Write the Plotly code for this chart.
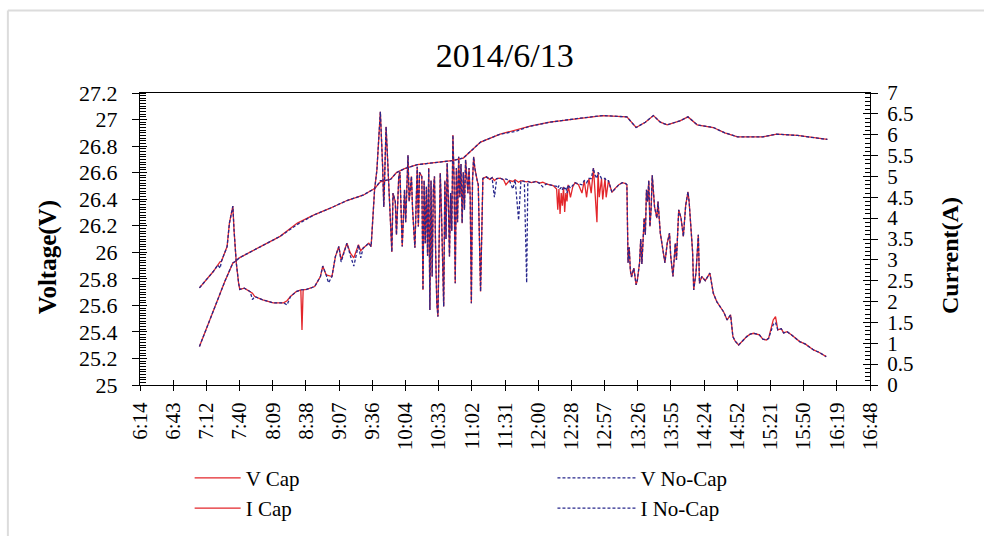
import plotly.graph_objects as go

# ---- data -------------------------------------------------------------
tick_labels = ["6:14", "6:43", "7:12", "7:40", "8:09", "8:38", "9:07", "9:36",
               "10:04", "10:33", "11:02", "11:31", "12:00", "12:28", "12:57",
               "13:26", "13:55", "14:24", "14:52", "15:21", "15:50", "16:19", "16:48"]

v_times = ["7:06", "7:13", "7:20", "7:28", "7:35", "7:37", "7:41", "7:50", "8:01",
           "8:16", "8:31", "8:45", "8:59", "9:14", "9:28", "9:38", "9:40", "9:43",
           "9:47", "9:52", "9:57", "10:04", "10:15", "10:25", "10:35", "10:45",
           "10:55", "11:01", "11:10", "11:27", "11:40", "11:53", "12:10", "12:36",
           "12:56", "13:17", "13:25", "13:33", "13:40", "13:46", "13:52", "14:03",
           "14:10", "14:18", "14:32", "14:42", "14:53", "15:15", "15:27", "15:45",
           "16:11"]
v_cap = [25.29, 25.45, 25.60, 25.78, 25.92, 25.93, 25.96, 26.00, 26.05,
         26.12, 26.22, 26.28, 26.33, 26.39, 26.43, 26.48, 26.50, 26.53,
         26.54, 26.55, 26.60, 26.63, 26.66, 26.67, 26.68, 26.69,
         26.71, 26.76, 26.83, 26.89, 26.92, 26.95, 26.98, 27.01,
         27.03, 27.02, 26.94, 26.98, 27.03, 26.98, 26.96, 26.99,
         27.02, 26.96, 26.94, 26.90, 26.87, 26.87, 26.89, 26.88,
         26.85]
v_nocap = [25.29, 25.45, 25.61, 25.78, 25.92, 25.93, 25.96, 26.00, 26.05,
           26.12, 26.21, 26.28, 26.33, 26.39, 26.43, 26.48, 26.50, 26.54,
           26.54, 26.55, 26.60, 26.63, 26.66, 26.67, 26.68, 26.69,
           26.71, 26.76, 26.83, 26.89, 26.91, 26.95, 26.98, 27.01,
           27.03, 27.02, 26.94, 26.98, 27.03, 26.98, 26.96, 26.99,
           27.02, 26.96, 26.94, 26.90, 26.87, 26.87, 26.89, 26.88,
           26.85]

i_times = ["7:06", "7:12", "7:18", "7:22", "7:24", "7:25", "7:30", "7:32", "7:35", "7:36",
           "7:38", "7:40", "7:41", "7:45", "7:50", "7:52", "7:54", "8:01", "8:10", "8:19",
           "8:22", "8:25", "8:30", "8:34", "8:35", "8:36", "8:39", "8:46", "8:51", "8:53",
           "8:56", "8:58", "9:01", "9:04", "9:07", "9:09", "9:14", "9:17", "9:20", "9:24",
           "9:26", "9:28", "9:33", "9:35", "9:38", "9:40", "9:43", "9:45", "9:46", "9:48",
           "9:50", "9:53", "9:54", "9:56", "9:57", "9:59", "10:00", "10:02", "10:04", "10:05",
           "10:07", "10:08", "10:10", "10:11", "10:13", "10:15", "10:16", "10:17", "10:19", "10:20",
           "10:21", "10:22", "10:23", "10:24", "10:25", "10:26", "10:27", "10:28", "10:29", "10:30",
           "10:31", "10:32", "10:33", "10:34", "10:35", "10:36", "10:37", "10:38", "10:39", "10:40",
           "10:41", "10:42", "10:43", "10:44", "10:45", "10:46", "10:47", "10:48", "10:49", "10:50",
           "10:51", "10:52", "10:53", "10:54", "10:55", "10:56", "10:57", "10:58", "10:59", "11:00",
           "11:01", "11:02", "11:03", "11:04", "11:05", "11:07", "11:08", "11:10", "11:12", "11:15",
           "11:18", "11:20", "11:22", "11:24", "11:27", "11:30", "11:32", "11:35", "11:38", "11:40",
           "11:43", "11:45", "11:48", "11:50", "11:51", "11:54", "11:58", "12:01", "12:04", "12:07",
           "12:10", "12:13", "12:16", "12:17", "12:18", "12:19", "12:20", "12:21", "12:22", "12:23",
           "12:24", "12:25", "12:26", "12:28", "12:30", "12:32", "12:35", "12:38", "12:40", "12:42",
           "12:44", "12:46", "12:48", "12:49", "12:51", "12:52", "12:53", "12:55", "12:56", "12:58",
           "12:59", "13:01", "13:04", "13:07", "13:10", "13:13", "13:16", "13:17", "13:18", "13:19",
           "13:20", "13:21", "13:23", "13:25", "13:26", "13:28", "13:29", "13:30", "13:31", "13:32",
           "13:33", "13:34", "13:35", "13:36", "13:37", "13:38", "13:39", "13:40", "13:41", "13:43",
           "13:44", "13:46", "13:48", "13:50", "13:52", "13:54", "13:55", "13:57", "13:59", "14:00",
           "14:02", "14:04", "14:06", "14:08", "14:10", "14:11", "14:12", "14:13", "14:14", "14:15",
           "14:17", "14:19", "14:20", "14:22", "14:25", "14:29", "14:32", "14:35", "14:38", "14:41",
           "14:44", "14:47", "14:49", "14:51", "14:54", "15:01", "15:04", "15:07", "15:12", "15:15",
           "15:18", "15:20", "15:24", "15:26", "15:28", "15:31", "15:33", "15:36", "15:40", "15:44",
           "15:47", "15:52", "15:56", "15:59", "16:04", "16:10"]
i_cap = [2.33, 2.52, 2.72, 2.88, 2.96, 2.96, 3.32, 3.88, 4.29, 3.72,
         2.92, 2.44, 2.29, 2.32, 2.24, 2.20, 2.12, 2.04, 1.97, 1.97,
         2.02, 2.12, 2.24, 2.28, 1.32, 2.28, 2.29, 2.36, 2.60, 2.85,
         2.64, 2.62, 2.60, 3.08, 3.32, 3.00, 3.40, 3.16, 3.05, 3.36,
         3.22, 3.28, 3.40, 3.32, 4.68, 5.15, 6.55, 5.23, 4.27, 6.19,
         5.08, 3.19, 4.60, 4.39, 3.60, 5.00, 5.10, 3.32, 4.68, 3.90,
         5.51, 4.40, 5.00, 4.20, 3.29, 5.23, 3.80, 5.10, 5.00, 2.28,
         4.90, 3.40, 4.75, 3.10, 5.20, 1.80, 4.90, 2.60, 4.68, 5.00,
         3.20, 1.96, 1.64, 4.00, 5.08, 4.20, 2.90, 1.88, 4.90, 3.50,
         5.32, 4.50, 3.08, 4.60, 3.70, 5.99, 4.90, 2.44, 5.20, 3.90,
         5.47, 4.50, 5.30, 3.88, 5.10, 4.20, 5.40, 5.00, 4.60, 5.20,
         4.50, 1.96, 4.90, 5.47, 5.20, 4.91, 4.80, 2.24, 4.95, 4.99,
         4.93, 4.97, 4.90, 4.95, 4.96, 4.92, 4.80, 4.90, 4.88, 4.92,
         4.86, 4.90, 4.88, 4.87, 4.88, 4.85, 4.88, 4.84, 4.86, 4.82,
         4.80, 4.78, 4.70, 4.20, 4.70, 4.10, 4.60, 4.30, 4.75, 4.15,
         4.60, 4.40, 4.80, 4.50, 4.75, 4.85, 4.80, 4.60, 4.90, 4.50,
         4.95, 4.60, 5.20, 4.70, 3.90, 5.10, 4.50, 4.95, 4.45, 4.95,
         4.50, 4.90, 4.62, 4.72, 4.80, 4.85, 4.83, 4.80, 2.93, 3.30,
         2.75, 2.59, 2.80, 2.40, 2.50, 2.93, 3.50, 2.90, 3.32, 4.00,
         3.60, 4.68, 4.40, 4.90, 3.80, 4.20, 5.03, 4.50, 4.27, 4.00,
         4.40, 3.64, 3.30, 2.93, 3.40, 3.64, 3.10, 2.60, 3.40, 3.00,
         4.20, 4.00, 3.56, 4.30, 4.63, 4.40, 4.00, 3.64, 3.20, 2.28,
         2.70, 3.60, 2.44, 2.60, 2.50, 2.68, 2.20, 2.00, 1.88, 1.75,
         1.56, 1.68, 1.16, 1.05, 0.96, 1.16, 1.22, 1.24, 1.20, 1.10,
         1.08, 1.12, 1.56, 1.64, 1.32, 1.35, 1.25, 1.28, 1.20, 1.10,
         1.04, 0.98, 0.90, 0.84, 0.78, 0.68]
i_nocap = [2.33, 2.52, 2.72, 2.88, 2.80, 2.96, 3.32, 3.88, 4.29, 3.72,
           2.92, 2.44, 2.29, 2.32, 2.24, 2.05, 2.12, 2.04, 1.97, 1.97,
           1.92, 2.12, 2.24, 2.28, 2.28, 2.28, 2.29, 2.36, 2.60, 2.85,
           2.64, 2.45, 2.60, 3.08, 3.32, 2.95, 3.40, 3.10, 2.85, 3.36,
           3.05, 3.28, 3.40, 3.32, 4.68, 5.15, 6.55, 5.23, 4.27, 6.19,
           5.08, 3.19, 4.60, 4.39, 3.60, 5.00, 5.10, 3.32, 4.68, 3.90,
           5.51, 4.40, 5.00, 4.20, 3.29, 5.23, 3.80, 5.10, 5.00, 2.28,
           4.90, 3.40, 4.75, 3.10, 5.20, 1.80, 4.90, 2.60, 4.68, 5.00,
           3.20, 1.96, 1.64, 4.00, 5.08, 4.20, 2.90, 1.88, 4.90, 3.50,
           5.32, 4.50, 3.08, 4.60, 3.70, 5.99, 4.90, 2.44, 5.20, 3.90,
           5.47, 4.50, 5.30, 3.88, 5.10, 4.20, 5.40, 5.00, 4.60, 5.20,
           4.50, 1.96, 4.90, 5.47, 5.20, 4.91, 4.80, 2.24, 4.95, 4.99,
           4.93, 4.97, 4.50, 4.95, 4.96, 4.92, 4.94, 4.90, 4.70, 4.92,
           3.95, 4.90, 4.88, 2.45, 4.88, 4.85, 4.88, 4.84, 4.75, 4.82,
           4.80, 4.78, 4.76, 4.72, 4.78, 4.70, 4.74, 4.68, 4.76, 4.70,
           4.75, 4.60, 4.80, 4.72, 4.78, 4.85, 4.82, 4.80, 4.90, 4.85,
           4.95, 4.95, 5.20, 5.05, 4.95, 5.10, 5.05, 4.95, 4.95, 4.95,
           4.90, 4.90, 4.62, 4.72, 4.80, 4.85, 4.83, 4.80, 2.93, 3.30,
           2.75, 2.59, 2.80, 2.40, 2.50, 2.93, 3.50, 2.90, 3.32, 4.00,
           3.60, 4.68, 4.40, 4.90, 3.80, 4.20, 5.03, 4.50, 4.27, 4.00,
           4.40, 3.64, 3.30, 2.93, 3.40, 3.64, 3.10, 2.60, 3.40, 3.00,
           4.20, 4.00, 3.56, 4.30, 4.63, 4.40, 4.00, 3.64, 3.20, 2.28,
           2.70, 3.60, 2.44, 2.60, 2.50, 2.68, 2.20, 2.00, 1.88, 1.75,
           1.56, 1.68, 1.16, 1.05, 0.96, 1.16, 1.22, 1.24, 1.20, 1.10,
           1.08, 1.12, 1.45, 1.50, 1.32, 1.35, 1.25, 1.28, 1.20, 1.10,
           1.04, 0.98, 0.90, 0.84, 0.78, 0.68]


def day_frac(hm):
    h, m = hm.split(":")
    return (int(h) * 60 + int(m)) / 1440.0


vx = [day_frac(t) for t in v_times]
ix = [day_frac(t) for t in i_times]
tick_vals = [round(0.26 + 0.02 * k, 4) for k in range(len(tick_labels))]

RED = "#e3262b"
BLUE = "#27278c"
FONT = "Liberation Serif"

fig = go.Figure()
fig.add_trace(go.Scatter(x=vx, y=v_cap, name="V Cap", mode="lines", legend="legend",
                         line=dict(color=RED, width=1.3)))
fig.add_trace(go.Scatter(x=ix, y=i_cap, name="I Cap", mode="lines", yaxis="y2", legend="legend",
                         line=dict(color=RED, width=1.3)))
fig.add_trace(go.Scatter(x=vx, y=v_nocap, name="V No-Cap", mode="lines", legend="legend2",
                         line=dict(color=BLUE, width=1.3, dash="3px,2px")))
fig.add_trace(go.Scatter(x=ix, y=i_nocap, name="I No-Cap", mode="lines", yaxis="y2",
                         legend="legend2",
                         line=dict(color=BLUE, width=1.3, dash="3px,2px")))

# empty traces that carry the inner halves of the crossing tick marks
fig.add_trace(go.Scatter(x=[None], y=[None], xaxis="x2", yaxis="y",
                         showlegend=False, hoverinfo="skip"))
fig.add_trace(go.Scatter(x=[None], y=[None], xaxis="x", yaxis="y3",
                         showlegend=False, hoverinfo="skip"))
fig.add_trace(go.Scatter(x=[None], y=[None], xaxis="x", yaxis="y4",
                         showlegend=False, hoverinfo="skip"))

v_ticks = [round(25 + 0.2 * k, 1) for k in range(12)]
i_ticks = [0.5 * k for k in range(15)]

legend_common = dict(orientation="v", yref="container", yanchor="top", y=0.146,
                     font=dict(family=FONT, size=21),
                     bgcolor="rgba(0,0,0,0)", traceorder="normal", tracegroupgap=0)

fig.update_layout(
    width=984, height=536,
    margin=dict(l=140, r=114, t=93, b=151, autoexpand=False),
    paper_bgcolor="white", plot_bgcolor="white",
    font=dict(family=FONT, color="black", size=22),
    showlegend=True,
    title=dict(text="2014/6/13", x=0.513, xanchor="center", y=0.897, yanchor="middle",
               font=dict(family=FONT, size=34, color="black")),
    xaxis=dict(range=[0.26, 0.70], tickmode="array", tickvals=tick_vals, ticktext=tick_labels,
               tickangle=-90, ticks="outside", ticklen=5, tickcolor="black",
               showline=True, linecolor="black", linewidth=1, mirror=True,
               showgrid=False, zeroline=False, ticklabelstandoff=3,
               tickfont=dict(family=FONT, size=21)),
    xaxis2=dict(range=[0.26, 0.70], overlaying="x", anchor="y", tickmode="array",
                tickvals=tick_vals, showticklabels=False, ticks="inside", ticklen=5,
                tickcolor="black", showline=False, showgrid=False, zeroline=False),
    yaxis=dict(range=[25, 27.2], tickmode="array", tickvals=v_ticks,
               ticks="outside", ticklen=7, tickcolor="black",
               minor=dict(tick0=25, dtick=0.02, ticks="inside", ticklen=6,
                          tickcolor="black", showgrid=False),
               showline=True, linecolor="black", linewidth=1,
               showgrid=False, zeroline=False, ticklabelstandoff=10,
               tickfont=dict(family=FONT, size=22)),
    yaxis2=dict(range=[0, 7], overlaying="y", side="right", anchor="x",
                tickmode="array", tickvals=i_ticks,
                ticks="outside", ticklen=7, tickcolor="black",
                minor=dict(tick0=0, dtick=0.1, ticks="inside", ticklen=5,
                           tickcolor="black", showgrid=False),
                showline=True, linecolor="black", linewidth=1,
                showgrid=False, zeroline=False, ticklabelstandoff=5,
                tickfont=dict(family=FONT, size=21)),
    yaxis3=dict(range=[25, 27.2], overlaying="y", side="left", anchor="x",
                tickmode="array", tickvals=v_ticks, showticklabels=False,
                ticks="inside", ticklen=7, tickcolor="black",
                showline=False, showgrid=False, zeroline=False),
    yaxis4=dict(range=[0, 7], overlaying="y", side="right", anchor="x",
                tickmode="array", tickvals=i_ticks, showticklabels=False,
                ticks="inside", ticklen=7, tickcolor="black",
                showline=False, showgrid=False, zeroline=False),
    legend=dict(x=0.068, xanchor="left", itemwidth=46, **legend_common),
    legend2=dict(x=0.565, xanchor="left", itemwidth=78, **legend_common),
    annotations=[
        dict(text="<b>Voltage(V)</b>", xref="paper", yref="paper", x=-0.148, y=0.437,
             textangle=-90, showarrow=False, font=dict(family=FONT, size=25)),
        dict(text="<b>Current(A)</b>", xref="paper", yref="paper", x=1.130, y=0.445,
             textangle=-90, showarrow=False, font=dict(family=FONT, size=24)),
    ],
    shapes=[
        # light page frame: top and left edges
        dict(type="line", xref="paper", yref="paper", x0=-0.181, x1=1.2, y0=1.2825, y1=1.2825,
             line=dict(color="#dcdcdc", width=2)),
        dict(type="line", xref="paper", yref="paper", x0=-0.181, x1=-0.181, y0=1.2825, y1=-0.6,
             line=dict(color="#dcdcdc", width=2)),
    ],
)

fig.write_html("out.html")
